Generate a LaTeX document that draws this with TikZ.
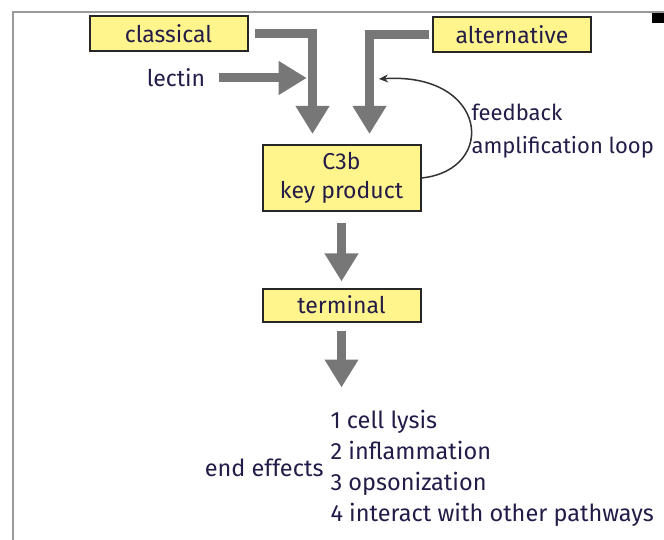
\documentclass[tikz,border=0pt]{standalone}
\usepackage{fontspec}
\setmainfont{Fira Sans}
\usetikzlibrary{arrows.meta}
\usetikzlibrary{positioning}
\definecolor{boxfill}{HTML}{FFF58C}
\definecolor{arrowgray}{HTML}{777777}
\definecolor{inkblue}{HTML}{241C48}
\definecolor{framegray}{HTML}{9A9A9A}

\begin{document}
\begin{tikzpicture}[x=1pt,y=-1pt,
  every node/.style={text=inkblue,font=\fontsize{23}{31}\selectfont},
  pathbox/.style={draw=black!85,line width=2pt,fill=boxfill,minimum width=158pt,minimum height=35pt,inner sep=0pt},
  fatarrow/.style={draw=arrowgray,line width=9pt,-{Triangle[width=32pt,length=28pt]}},
  loopline/.style={draw=black!80,line width=1.5pt,-{Stealth[length=9pt,width=8pt]}}]
 \useasboundingbox (0,0) rectangle (664,540);
 \draw[framegray,line width=2pt] (13,540) -- (13,12) -- (664,12);
 \fill[black] (652,13) rectangle (664,23);
 \node[pathbox] (classical) at (168.5,34) {classical};
 \node[pathbox] (alternative) at (512,34.5) {alternative};
 \node (lectin) at (176,78) {lectin};
 \node[pathbox,minimum height=66pt,align=center,font=\fontsize{23}{29}\selectfont] (c3b) at (341.5,178) {C3b\\key product};
 \node[pathbox,minimum height=33pt] (terminal) at (341.5,305) {terminal};
 \node[anchor=west,align=left,font=\fontsize{23.5}{31}\selectfont] (effects) at (327,468) {1 cell lysis\\2 inflammation\\3 opsonization\\4 interact with other pathways};
 \node[anchor=east,font=\fontsize{23.5}{31}\selectfont] (endlabel) at (effects.west) {end effects};
 \node[anchor=west,align=left,font=\fontsize{22}{33}\selectfont] (feedback) at (468,131) {feedback\\amplification loop};
 \coordinate (loopend) at (379,79);
 \draw[fatarrow] ([xshift=6pt]classical.east) -| ([xshift=-29pt,yshift=10pt]c3b.north);
 \draw[fatarrow] ([xshift=-3pt]alternative.west) -| ([xshift=28pt,yshift=10pt]c3b.north);
 \draw[fatarrow] ([xshift=10pt]lectin.east) -- ++(88,0);
 \draw[fatarrow] ([yshift=-11pt]c3b.south) -- ([yshift=6pt]terminal.north);
 \draw[fatarrow] ([yshift=-8pt]terminal.south) -- ++(0,57);
 \draw[loopline] (c3b.east) .. controls (498,170) and (488,72) .. (loopend);
\end{tikzpicture}
\end{document}
